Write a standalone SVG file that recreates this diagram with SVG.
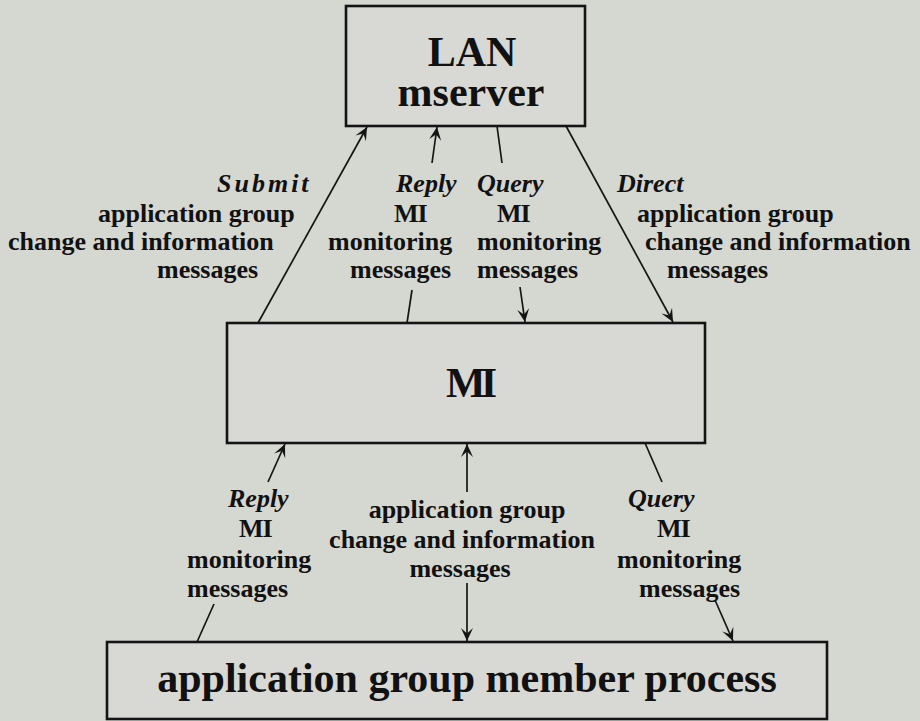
<svg xmlns="http://www.w3.org/2000/svg" width="920" height="721" viewBox="0 0 920 721">
  <defs>
    <style>
      .box { fill: #d8d9d4; stroke: #141414; stroke-width: 2.6; }
      .big { font-family: "Liberation Serif", "Times New Roman", serif; font-weight: bold; font-size: 42px; fill: #111; text-anchor: middle; }
      .lbl { font-family: "Liberation Serif", "Times New Roman", serif; font-weight: bold; font-size: 26px; fill: #111; }
      .it { font-style: italic; }
      .wire { fill: none; stroke: #161616; stroke-width: 1.7; }
    </style>
    <marker id="head" viewBox="-14 -7 16 14" refX="0" refY="0" markerWidth="16" markerHeight="14" orient="auto-start-reverse" markerUnits="userSpaceOnUse">
      <path d="M0,0 L-13,-6 L-7.5,0 L-13,6 Z" fill="#141414"/>
    </marker>
  </defs>

  <rect width="920" height="721" fill="#d5d7d1"/>

  <!-- nodes -->
  <g id="node-lan-mserver">
    <rect class="box" x="346" y="6" width="239" height="120"/>
    <text class="big" x="472" y="66">LAN</text>
    <text class="big" x="471" y="106">mserver</text>
  </g>

  <g id="node-mi">
    <rect class="box" x="227" y="323" width="478" height="120"/>
    <text class="big" x="469" y="397" letter-spacing="-5">MI</text>
  </g>

  <g id="node-member-process">
    <rect class="box" x="107" y="642" width="720" height="77"/>
    <text class="big" x="467" y="692">application group member process</text>
  </g>

  <!-- connectors -->
  <g id="connectors">
    <!-- Submit: MI up to LAN mserver -->
    <line class="wire" x1="258" y1="323" x2="367" y2="127" marker-end="url(#head)"/>
    <!-- Reply (top): MI up to LAN mserver, broken by its label -->
    <line class="wire" x1="407" y1="323" x2="412" y2="290"/>
    <line class="wire" x1="432" y1="163" x2="437" y2="127" marker-end="url(#head)"/>
    <!-- Query (top): LAN mserver down to MI, broken by its label -->
    <line class="wire" x1="497" y1="126" x2="502" y2="163"/>
    <line class="wire" x1="520" y1="287" x2="525" y2="322" marker-end="url(#head)"/>
    <!-- Direct: LAN mserver down to MI -->
    <line class="wire" x1="566" y1="126" x2="673" y2="322" marker-end="url(#head)"/>

    <!-- Reply (bottom): member process up to MI -->
    <line class="wire" x1="197" y1="642" x2="214" y2="604"/>
    <line class="wire" x1="268" y1="482" x2="285" y2="444" marker-end="url(#head)"/>
    <!-- application group traffic, both directions -->
    <line class="wire" x1="467" y1="444" x2="467" y2="492" marker-start="url(#head)"/>
    <line class="wire" x1="467" y1="583" x2="467" y2="641" marker-end="url(#head)"/>
    <!-- Query (bottom): MI down to member process -->
    <line class="wire" x1="645" y1="443" x2="662" y2="482"/>
    <line class="wire" x1="715" y1="600" x2="733" y2="641" marker-end="url(#head)"/>
  </g>

  <!-- connector labels -->
  <g id="label-submit" class="lbl">
    <text class="it" x="217" y="192" letter-spacing="3">Submit</text>
    <text x="98" y="222">application group</text>
    <text x="8" y="250">change and information</text>
    <text x="157" y="278">messages</text>
  </g>

  <g id="label-reply-top" class="lbl">
    <text class="it" x="396" y="192">Reply</text>
    <text x="394" y="222" letter-spacing="-1">MI</text>
    <text x="328" y="250">monitoring</text>
    <text x="350" y="278">messages</text>
  </g>

  <g id="label-query-top" class="lbl">
    <text class="it" x="477" y="192">Query</text>
    <text x="497" y="222" letter-spacing="-1">MI</text>
    <text x="477" y="250">monitoring</text>
    <text x="477" y="278">messages</text>
  </g>

  <g id="label-direct" class="lbl">
    <text class="it" x="617" y="192">Direct</text>
    <text x="637" y="222">application group</text>
    <text x="645" y="250">change and information</text>
    <text x="667" y="278">messages</text>
  </g>

  <g id="label-reply-bottom" class="lbl">
    <text class="it" x="228" y="507">Reply</text>
    <text x="239" y="537" letter-spacing="-1">MI</text>
    <text x="187" y="568">monitoring</text>
    <text x="187" y="597">messages</text>
  </g>

  <g id="label-app-group" class="lbl" text-anchor="middle">
    <text x="467" y="518">application group</text>
    <text x="462" y="548">change and information</text>
    <text x="460" y="577">messages</text>
  </g>

  <g id="label-query-bottom" class="lbl">
    <text class="it" x="628" y="507">Query</text>
    <text x="657" y="537" letter-spacing="-1">MI</text>
    <text x="617" y="568">monitoring</text>
    <text x="639" y="597">messages</text>
  </g>
</svg>
